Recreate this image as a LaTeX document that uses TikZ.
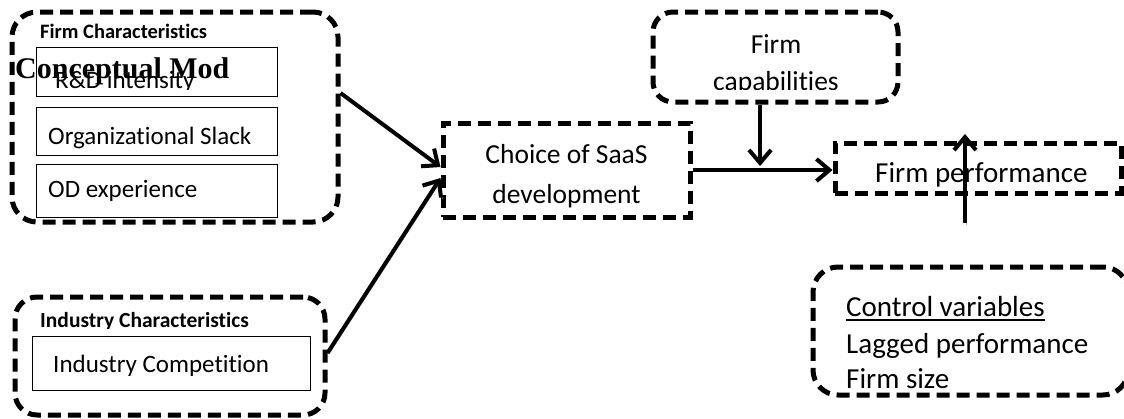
\documentclass[tikz,border=0pt]{standalone}
\usepackage{fontspec}
\setmainfont{Carlito}[Ligatures={NoCommon,NoContextual}]
\newfontfamily\timesfont{Liberation Serif}
\usetikzlibrary{arrows.meta}
\begin{document}
\begin{tikzpicture}[x=1pt,y=-1pt,
 dbox/.style={draw, line width=5pt, dash pattern=on 13pt off 7pt, inner sep=0pt},
 ibox/.style={draw, line width=1pt, inner sep=0pt, minimum width=241pt},
 txt/.style={inner sep=0pt, anchor=base west, font=\fontsize{25}{30}\selectfont},
 big/.style={inner sep=0pt, anchor=base, font=\fontsize{27.5}{33}\selectfont},
 lbl/.style={inner sep=0pt, anchor=base west, font=\bfseries\fontsize{20.5}{25}\selectfont},
 conn/.style={line width=4pt, -{Straight Barb[length=13pt,width=22pt]},
   preaction={draw=gray!60, transform canvas={shift={(1.5pt,-1.5pt)}}}}
]
\clip (0,0) rectangle (1124,418);
% firm characteristics group
\node[dbox, rounded corners=25pt, minimum width=326pt, minimum height=210pt] (fc) at (175,117) {};
\node[lbl] (fcl) at (40,38) {Firm Characteristics};
\node[ibox, minimum height=49pt] (b1) at (156.5,71.5) {};
\node[ibox, minimum height=48pt] (b2) at (156.5,131) {};
\node[ibox, minimum height=53pt] (b3) at (156.5,190.5) {};
\begin{scope}
\clip (0,0) rectangle (400,89);
\node[txt] (rd) at (55,88) {R\&D intensity};
\end{scope}
\node[txt] (os) at (48,144) {Organizational Slack};
\node[txt] (od) at (48,197) {OD experience};
\node[inner sep=0pt, anchor=base west, font=\timesfont\bfseries\fontsize{30}{36}\selectfont] (cm) at (15,78) {Conceptual Mod};
% industry group
\node[dbox, rounded corners=22pt, minimum width=310pt, minimum height=118pt] (ind) at (170,356) {};
\begin{scope}
\clip (0,0) rectangle (400,328);
\node[lbl, font=\bfseries\fontsize{21.5}{26}\selectfont] (indl) at (40,327) {Industry Characteristics};
\end{scope}
\node[ibox, minimum width=278pt, minimum height=54pt] (ic) at (171,363) {};
\node[txt] (ict) at (53,372) {Industry Competition};
% choice
\node[dbox, minimum width=247pt, minimum height=94pt] (ch) at (566.5,170) {};
\node[big] (ch1) at (566.5,163) {Choice of SaaS};
\node[big] (ch2) at (566.5,203) {development};
% firm capabilities
\node[dbox, rounded corners=20pt, minimum width=245pt, minimum height=90pt] (fcap) at (775.5,57) {};
\node[big] (fc1) at (776,53) {Firm};
\begin{scope}
\clip (600,0) rectangle (900,89);
\node[big] (fc2) at (776,90) {capabilities};
\end{scope}
% firm performance
\node[dbox, minimum width=286pt, minimum height=50pt] (fp) at (978,168) {};
\node[inner sep=0pt, anchor=base west, font=\fontsize{29}{35}\selectfont] (fpt) at (875,182) {Firm performance};
% control variables
\node[dbox, rounded corners=25pt, minimum width=315pt, minimum height=128pt] (ctrl) at (970.5,331) {};
\node[inner sep=0pt, anchor=base west, font=\fontsize{29}{35}\selectfont] (cv) at (846,316) {Control variables};
\draw[line width=2pt] ([yshift=-3.5pt]cv.base west) -- ([yshift=-3.5pt]cv.base east);
\node[inner sep=0pt, anchor=base west, font=\fontsize{29}{35}\selectfont] (lp) at (846,353) {Lagged performance};
\node[inner sep=0pt, anchor=base west, font=\fontsize{29}{35}\selectfont] (fs) at (846,388) {Firm size};
% connectors
\coordinate (m) at (760,170);
\coordinate (ub) at (965,223);
\coordinate (ut) at (965,134);
\draw[conn] ([yshift=24pt]fc.east) -- ([yshift=3pt]ch.west);
\draw[conn] ([yshift=3pt]ind.east) -- ([yshift=-8pt]ch.west);
\draw[conn] (ch.east) -- (fp.west |- ch.east);
\draw[conn] (fcap.south -| m) -- ([yshift=4pt]m);
\draw[conn] (ub) -- (ut);
\end{tikzpicture}
\end{document}
